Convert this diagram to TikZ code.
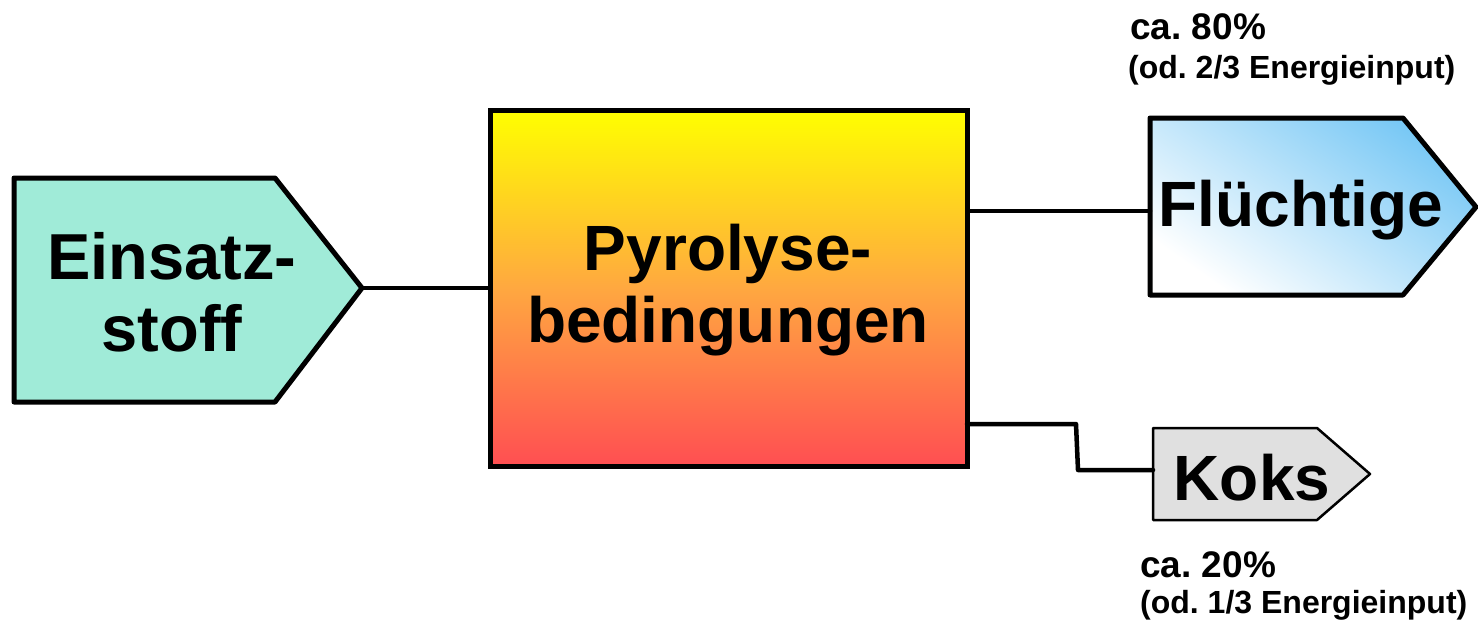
\documentclass[tikz,border=0pt]{standalone}
\usepackage{fontspec}
\setmainfont{Liberation Sans}
\usetikzlibrary{calc}
\frenchspacing

\definecolor{feedgreen}{RGB}{160,235,216}
\definecolor{pyrtop}{RGB}{255,255,0}
\definecolor{pyrmid}{RGB}{255,168,64}
\definecolor{pyrbot}{RGB}{255,78,82}
\definecolor{volblue}{RGB}{120,200,245}
\definecolor{cokegray}{RGB}{224,224,224}

\tikzset{
  bigtext/.style={font=\fontsize{64}{72}\selectfont\bfseries, align=center, inner sep=0pt},
  smalltext/.style={font=\fontsize{32}{40}\selectfont\bfseries, anchor=west, inner sep=0pt},
  pctext/.style={font=\fontsize{37}{44}\selectfont\bfseries, anchor=west, inner sep=0pt},
  outline/.style={draw=black, line width=5pt, line join=round},
  link/.style={draw=black, line width=4.5pt, line join=round, line cap=round}
}

\begin{document}
\begin{tikzpicture}[x=1pt, y=-1pt]
  \useasboundingbox (0,0) rectangle (1478,621);

  % feedstock arrow box
  \path[outline, fill=feedgreen] (14,178) -- (275,178) -- (362,288) -- (275,402) -- (14,402) -- cycle;
  \node[bigtext, font=\fontsize{65}{72}\selectfont\bfseries] (ein) at (172,292) {Einsatz-\\stoff};
  \coordinate (eintip) at (362,288);

  % pyrolysis conditions box
  \node[draw=black, line width=5pt, minimum width=477pt, minimum height=356pt,
        inner sep=0pt, top color=pyrtop, bottom color=pyrbot, middle color=pyrmid]
        (pyr) at (728.5,288) {};
  \node[bigtext] at (728,290) {Pyrolyse-\\bedingungen};

  % volatiles
  \path[outline, top color=volblue, bottom color=white, shading angle=-35]
    (1150,118) -- (1403,118) -- (1476,207) -- (1403,295) -- (1150,295) -- cycle;
  \node[bigtext] (flu) at (1301,210) {Flüchtige};
  \coordinate (fluin) at (1150,211);

  % coke
  \path[draw=black, line width=2.5pt, line join=round, fill=cokegray]
    (1153,428) -- (1317,428) -- (1370,474) -- (1317,520) -- (1153,520) -- cycle;
  \node[bigtext] (kok) at (1252,478) {Koks};
  \coordinate (kokin) at (1153,470);
  \coordinate (kokout) at (967,424);

  % connectors
  \draw[link] (eintip) -- (pyr.west);
  \draw[link] (pyr.east |- fluin) -- (fluin);
  \draw[link] (kokout) -- (1076,424) -- (1078,470) -- (kokin);

  % yield annotations
  \node[pctext] (p80) at (1130,27) {ca. 80\%};
  \node[smalltext] (e80) at (1128,70) {(od. 2/3 Energieinput)};
  \node[pctext] (p20) at (1140,565) {ca. 20\%};
  \node[smalltext] (e20) at (1140,605) {(od. 1/3 Energieinput)};
\end{tikzpicture}
\end{document}
